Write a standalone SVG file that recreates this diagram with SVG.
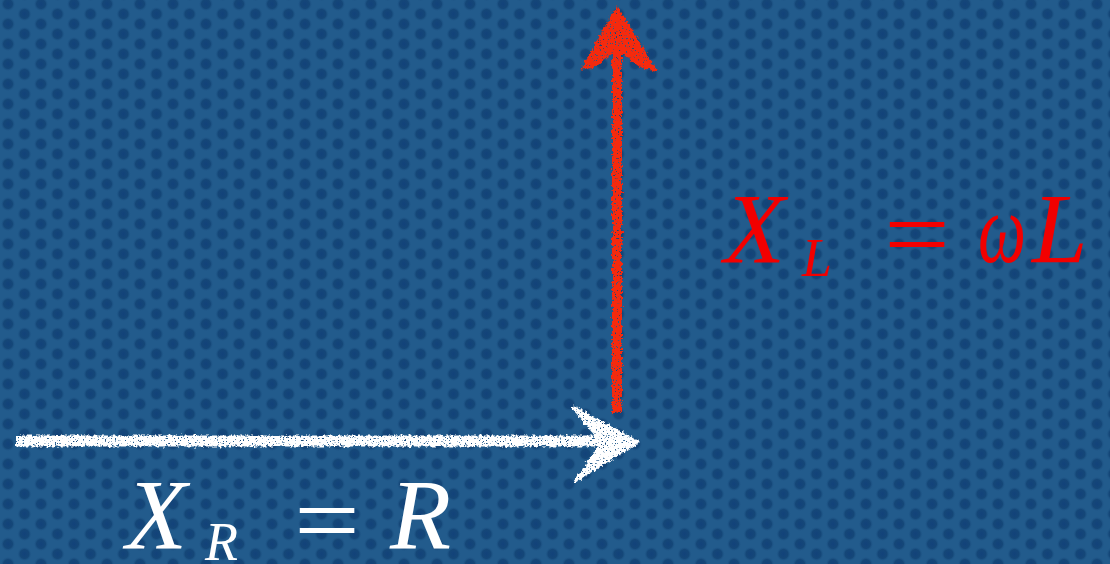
<svg xmlns="http://www.w3.org/2000/svg" width="1110" height="564" viewBox="0 0 1110 564">
  <defs>
    <radialGradient id="dotGrad">
      <stop offset="0" stop-color="#12427a"/>
      <stop offset="0.6" stop-color="#154778"/>
      <stop offset="1" stop-color="#215a8c" stop-opacity="0"/>
    </radialGradient>
    <pattern id="dots" patternUnits="userSpaceOnUse" width="33" height="20">
      <circle cx="8" cy="4" r="7.5" fill="url(#dotGrad)"/>
      <circle cx="24.5" cy="14" r="7.5" fill="url(#dotGrad)"/>
      <circle cx="-8.5" cy="14" r="7.5" fill="url(#dotGrad)"/>
      <circle cx="41" cy="4" r="7.5" fill="url(#dotGrad)"/>
      <circle cx="8" cy="24" r="7.5" fill="url(#dotGrad)"/>
      <circle cx="24.5" cy="-6" r="7.5" fill="url(#dotGrad)"/>
    </pattern>
    <filter id="chalk" x="-10%" y="-10%" width="120%" height="120%">
      <feTurbulence type="fractalNoise" baseFrequency="0.35" numOctaves="2" seed="3" result="noise"/>
      <feDisplacementMap in="SourceGraphic" in2="noise" scale="6" xChannelSelector="R" yChannelSelector="G" result="disp"/>
      <feTurbulence type="fractalNoise" baseFrequency="0.6" numOctaves="2" seed="7" result="n2"/>
      <feColorMatrix in="n2" type="matrix" values="0 0 0 0 0  0 0 0 0 0  0 0 0 0 0  0 0 0 -12 8.8" result="mask"/>
      <feComposite in="disp" in2="mask" operator="in"/>
    </filter>
    <style>
      .eq { font-family: "Liberation Serif", "Times New Roman", serif; }
      .it { font-style: italic; }
      .red { fill: #f20000; }
      .white { fill: #ffffff; }
    </style>
  </defs>

  <rect width="1110" height="564" fill="#225b8c"/>
  <rect width="1110" height="564" fill="url(#dots)"/>

  <g id="connectors">
    <g id="arrow-XR" filter="url(#chalk)" fill="#ffffff" stroke="#ffffff">
      <path d="M16 441 L605 441" stroke-width="11" fill="none"/>
      <polygon points="573,407 638,442 575,481 585,468 602,442 582,418" stroke-width="3" stroke-linejoin="round"/>
    </g>
    <g id="arrow-XL" filter="url(#chalk)" fill="#f52a0a" stroke="#f52a0a">
      <path d="M617 413 L617 45" stroke-width="10" fill="none"/>
      <polygon points="617,8 655,70 641,66 617,48 594,66 583,68" stroke-width="3" stroke-linejoin="round"/>
    </g>
  </g>

  <g id="label-XL" class="eq red">
    <text class="it" x="724" y="262" font-size="100">X</text>
    <text class="it" x="802" y="276" font-size="54">L</text>
    <text x="884" y="268" font-size="100" textLength="66" lengthAdjust="spacingAndGlyphs">=</text>
    <text class="it" x="978" y="262" font-size="100" textLength="48" lengthAdjust="spacingAndGlyphs">ω</text>
    <text class="it" x="1032" y="262" font-size="100">L</text>
  </g>

  <g id="label-XR" class="eq white">
    <text class="it" x="126" y="548" font-size="100">X</text>
    <text class="it" x="205" y="560" font-size="54">R</text>
    <text x="294" y="554" font-size="100" textLength="66" lengthAdjust="spacingAndGlyphs">=</text>
    <text class="it" x="390" y="548" font-size="100">R</text>
  </g>
</svg>
